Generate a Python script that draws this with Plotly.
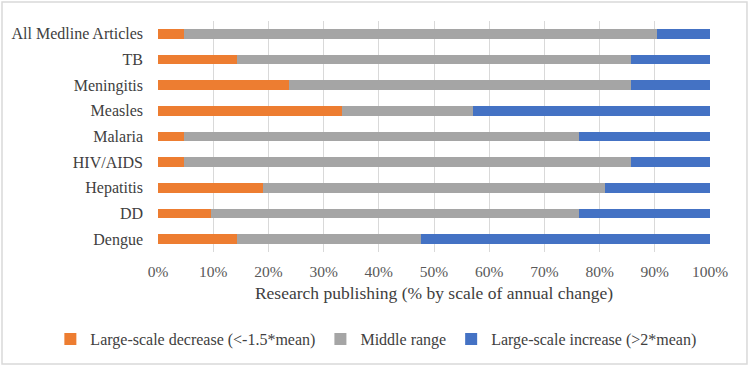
import plotly.graph_objects as go

categories = ["All Medline Articles", "TB", "Meningitis", "Measles", "Malaria",
              "HIV/AIDS", "Hepatitis", "DD", "Dengue"]
decrease = [4.76, 14.29, 23.81, 33.33, 4.76, 4.76, 19.05, 9.52, 14.29]
middle = [85.71, 71.43, 61.90, 23.81, 71.43, 80.95, 61.90, 66.67, 33.33]
increase = [9.52, 14.29, 14.29, 42.86, 23.81, 14.29, 19.05, 23.81, 52.38]
series_names = ["Large-scale decrease (<-1.5*mean)", "Middle range",
                "Large-scale increase (>2*mean)"]
tick_vals = [0, 10, 20, 30, 40, 50, 60, 70, 80, 90, 100]
tick_text = [f"{v}%" for v in tick_vals]

colors = ["#ED7D31", "#A5A5A5", "#4472C4"]
FONT = "Liberation Serif"

fig = go.Figure()
for name, vals, col in zip(series_names, [decrease, middle, increase], colors):
    fig.add_trace(go.Bar(
        y=categories, x=vals, name=name, orientation="h",
        marker=dict(color=col, line=dict(width=0)),
    ))

fig.update_layout(
    barmode="stack",
    bargap=0.62,
    width=750, height=367,
    margin=dict(l=158, r=40, t=21, b=115, autoexpand=False),
    paper_bgcolor="white",
    plot_bgcolor="white",
    font=dict(family=FONT, color="#404040", size=16),
    legend=dict(
        orientation="h", x=-0.195, xanchor="left",
        y=-0.377, yanchor="middle",
        font=dict(family=FONT, size=16, color="#404040"),
        itemwidth=30, traceorder="normal",
        bgcolor="rgba(0,0,0,0)",
    ),
    xaxis=dict(
        range=[0, 100], tickvals=tick_vals, ticktext=tick_text,
        showgrid=True, gridcolor="#D9D9D9", gridwidth=1,
        zeroline=False, showline=False, ticks="", ticklabelstandoff=8,
        tickfont=dict(family=FONT, size=15.5, color="#595959"),
        title=dict(text="Research publishing (% by scale of annual change)",
                   font=dict(family=FONT, size=17.5, color="#404040"),
                   standoff=8),
        automargin=False,
    ),
    yaxis=dict(
        autorange="reversed", showgrid=False, zeroline=False, showline=False,
        ticks="", ticklabelstandoff=14,
        tickfont=dict(family=FONT, size=16, color="#404040"),
        automargin=False,
    ),
    shapes=[dict(type="rect", xref="paper", yref="paper",
                 x0=-0.2826, x1=1.067, y0=-0.485, y1=1.082,
                 line=dict(color="#D9D9D9", width=1.5), layer="below")],
    showlegend=True,
)

fig.write_html("out.html", config={"displayModeBar": False},
               post_script="document.body.style.margin='0';")
